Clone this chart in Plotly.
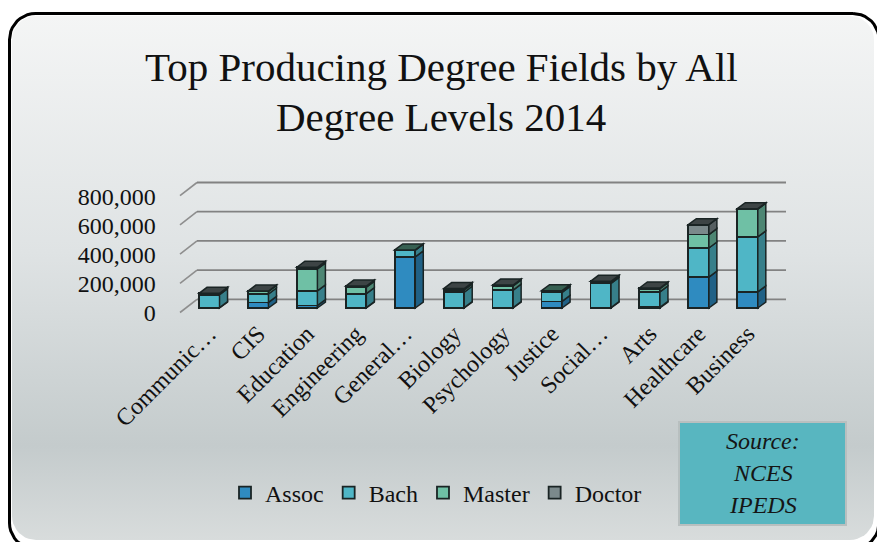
import math
import plotly.graph_objects as go

# ---------------- data ----------------
categories = ["Communic…", "CIS", "Education", "Engineering", "General…", "Biology",
              "Psychology", "Justice", "Social…", "Arts", "Healthcare", "Business"]
assoc = [3000, 38000, 17000, 3000, 350000, 2000, 3000, 45000, 3000, 5000, 212000, 110000]
bach = [88000, 58000, 100000, 95000, 47000, 106000, 120000, 62000, 165000, 105000, 199000, 377000]
master = [9000, 18000, 150000, 44000, 1000, 16000, 28000, 12000, 12000, 22000, 92000, 190000]
doctor = [600, 1800, 12000, 8000, 0, 9000, 6000, 0, 2500, 5000, 68000, 3000]
series_names = ["Assoc", "Bach", "Master", "Doctor"]
y_ticks = [0, 200000, 400000, 600000, 800000]
title_lines = ["Top Producing Degree Fields by All", "Degree Levels 2014"]
source_lines = ["Source:", "NCES", "IPEDS"]

# ---------------- style ----------------
W, H = 877, 542
FONT = "Liberation Serif"
colors = ["#2f8bc0", "#4fb6c6", "#6fc0a5", "#7b898b"]
outline = "#1a2424"
cat_x0, cat_x1 = 184.8, 772.0          # px span of the category slots
val_y0, val_y1 = 308.0, 191.2          # px of value 0 and value y_max
y_max = 800000
bar_w = 0.42
depth_px_x, depth_px_y = 8.0, 6.0
pad_l, pad_r, pad_b, pad_t = 12.0, 22.0, 10.0, 16.0   # extra plot room for the 3D wall

n = len(categories)
px_per_cat = (cat_x1 - cat_x0) / n
px_per_unit = (val_y0 - val_y1) / y_max
x_lo, x_hi = -0.5 - pad_l / px_per_cat, n - 0.5 + pad_r / px_per_cat
y_lo, y_hi = -pad_b / px_per_unit, y_max + pad_t / px_per_unit
x_dom = [(cat_x0 - pad_l) / W, (cat_x1 + pad_r) / W]
y_dom = [1 - (val_y0 + pad_b) / H, 1 - (val_y1 - pad_t) / H]
lab_dom = [1 - val_y0 / H, 1 - val_y1 / H]
dxd = depth_px_x / px_per_cat
dyd = depth_px_y / px_per_unit


def px2x(px):
    return -0.5 + (px - cat_x0) / px_per_cat


def shade(hexcol, f):
    h = hexcol.lstrip("#")
    r, g, b = (int(h[i:i + 2], 16) for i in (0, 2, 4))
    return "#%02x%02x%02x" % (int(r * f), int(g * f), int(b * f))


def rounded_rect(x0, y0, x1, y1, r, k_n=10):
    pts = []
    corners = [(x1 - r, y0 + r, -90, 0), (x1 - r, y1 - r, 0, 90),
               (x0 + r, y1 - r, 90, 180), (x0 + r, y0 + r, 180, 270)]
    for cx, cy, a0, a1 in corners:
        for k in range(k_n + 1):
            a = math.radians(a0 + (a1 - a0) * k / k_n)
            pts.append((cx + r * math.cos(a), cy + r * math.sin(a)))
    pts.append(pts[0])
    return [p[0] for p in pts], [p[1] for p in pts]


fig = go.Figure()

# background frame (pixel coordinate subplot)
bx, by = rounded_rect(9.5, 13.5, 879, 549, 26)
fig.add_trace(go.Scatter(x=bx, y=by, mode="lines", line=dict(color="black", width=3),
                         hoverinfo="skip", showlegend=False, xaxis="x", yaxis="y"))
gx, gy = rounded_rect(12, 16, 874, 540, 24)
fig.add_trace(go.Scatter(x=gx, y=gy, mode="lines", fill="toself", line=dict(width=0, color="rgba(0,0,0,0)"),
                         fillgradient=dict(type="vertical", start=16, stop=540,
                                           colorscale=[[0, "#f4f5f5"], [0.45, "#dfe3e4"],
                                                       [0.82, "#c4cbcc"], [1, "#d8dcdc"]]),
                         hoverinfo="skip", showlegend=False, xaxis="x", yaxis="y"))

idx = list(range(n))
series = [assoc, bach, master, doctor]
for name, vals, col in zip(series_names, series, colors):
    fig.add_trace(go.Bar(x=idx, y=vals, name=name, width=bar_w, xaxis="x2", yaxis="y2",
                         marker=dict(color=col, line=dict(color=outline, width=1.8))))

# invisible trace to carry the category labels axis
fig.add_trace(go.Scatter(x=idx, y=[None] * n, xaxis="x3", yaxis="y3",
                         showlegend=False, hoverinfo="skip"))

shapes = []
# 3D gridlines (back wall), drawn in the bar subplot beneath the bars
for v in y_ticks:
    shapes.append(dict(type="line", xref="x2", yref="y2", ysizemode="pixel", yanchor=v,
                       x0=px2x(180), x1=px2x(197), y0=-4.5, y1=8.7, layer="below",
                       line=dict(color="#8e8e8e", width=1.6)))
    shapes.append(dict(type="line", xref="x2", yref="y2", ysizemode="pixel", yanchor=v,
                       x0=px2x(197), x1=px2x(786), y0=8.7, y1=8.7, layer="below",
                       line=dict(color="#828282", width=1.8)))

# 3D side and top faces of the bars
for i in idx:
    base = 0
    top_col = colors[0]
    for vals, col in zip(series, colors):
        v = vals[i]
        if v <= 0:
            continue
        b, t = base, base + v
        xr = i + bar_w / 2
        path = (f"M {xr},{b} L {xr + dxd},{b + dyd} L {xr + dxd},{t + dyd} L {xr},{t} Z")
        shapes.append(dict(type="path", xref="x2", yref="y2", path=path, layer="above",
                           fillcolor=shade(col, 0.7), line=dict(color=outline, width=1.5)))
        base = t
        top_col = col
    xl, xr = i - bar_w / 2, i + bar_w / 2
    T = base
    path = (f"M {xl},{T} L {xl + dxd},{T + dyd} L {xr + dxd},{T + dyd} L {xr},{T} Z")
    shapes.append(dict(type="path", xref="x2", yref="y2", path=path, layer="above",
                       fillcolor=shade(top_col, 0.5), line=dict(color=outline, width=1.5)))

# source box
shapes.append(dict(type="rect", xref="x", yref="y", x0=679, x1=846, y0=422, y1=525,
                   fillcolor="#58b6c0", line=dict(color="#b8bfbf", width=2), layer="above"))

annotations = []
for k, line in enumerate(title_lines):
    annotations.append(dict(xref="x", yref="y", x=441, y=67 + 50 * k, text=line, showarrow=False,
                            xanchor="center", yanchor="middle",
                            font=dict(family=FONT, size=41, color="#111111")))
for k, line in enumerate(source_lines):
    annotations.append(dict(xref="x", yref="y", x=762.5, y=441 + 32 * k, text=f"<i>{line}</i>",
                            showarrow=False, xanchor="center", yanchor="middle",
                            font=dict(family=FONT, size=24, color="#151515")))

fig.update_layout(
    width=W, height=H, margin=dict(l=0, r=0, t=0, b=0, pad=0, autoexpand=False),
    paper_bgcolor="white", plot_bgcolor="rgba(0,0,0,0)",
    barmode="stack",
    showlegend=True,
    legend=dict(orientation="h", x=225 / W, xanchor="left", y=1 - 493 / H, yanchor="middle",
                traceorder="normal", bgcolor="rgba(0,0,0,0)", itemwidth=30,
                font=dict(family=FONT, size=24, color="#111111")),
    xaxis=dict(domain=[0, 1], range=[0, W], visible=False, fixedrange=True, automargin=False),
    yaxis=dict(domain=[0, 1], range=[H, 0], visible=False, fixedrange=True, automargin=False),
    xaxis2=dict(domain=x_dom, range=[x_lo, x_hi], anchor="y2",
                showgrid=False, zeroline=False, showline=False, showticklabels=False, ticks="",
                automargin=False),
    yaxis2=dict(domain=y_dom, range=[y_lo, y_hi], anchor="x2",
                tickmode="array", tickvals=y_ticks, tickformat=",d", showgrid=False, zeroline=False,
                showline=False, ticks="", ticklabelstandoff=int(28 - pad_l), ticklabelshift=5,
                automargin=False,
                tickfont=dict(family=FONT, size=24, color="#111111")),
    xaxis3=dict(domain=x_dom, range=[x_lo, x_hi], anchor="y3",
                tickmode="array", tickvals=idx, ticktext=categories, tickangle=-45,
                showgrid=False, zeroline=False, showline=False, ticks="", automargin=False,
                ticklabelstandoff=6,
                tickfont=dict(family=FONT, size=24, color="#111111")),
    yaxis3=dict(domain=lab_dom, range=[0, y_max], anchor="x3",
                showgrid=False, zeroline=False, showline=False, showticklabels=False, ticks="",
                automargin=False),
    shapes=shapes, annotations=annotations,
)

fig.write_html("out.html")
